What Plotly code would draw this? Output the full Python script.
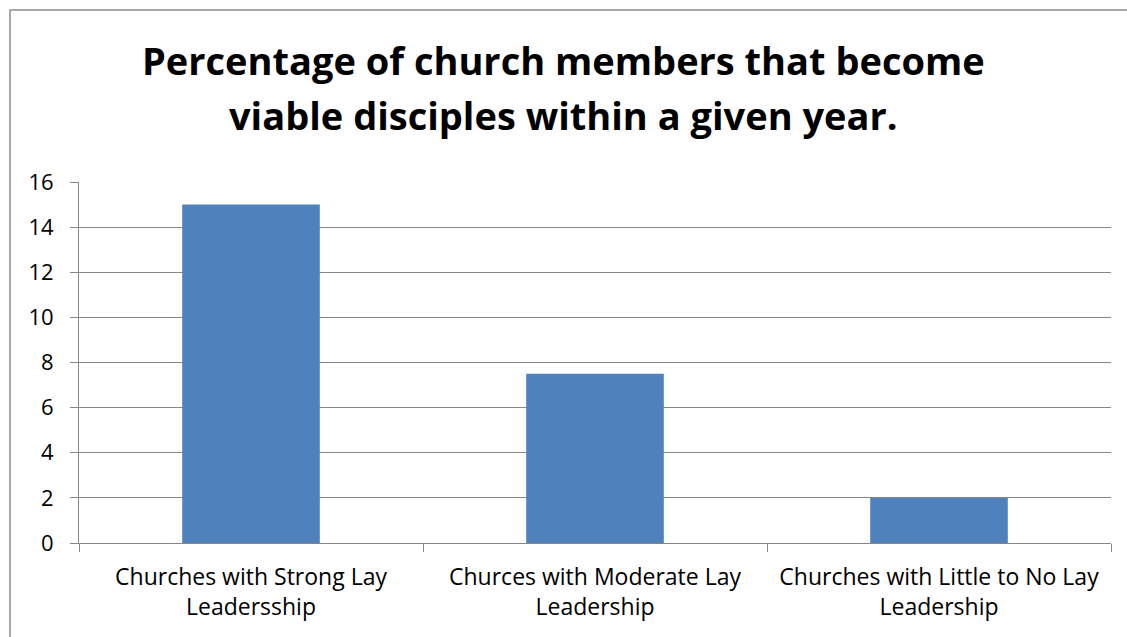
import plotly.graph_objects as go

# Chart data
categories = [
    "Churches with Strong Lay<br>Leadersship",
    "Churces with Moderate Lay<br>Leadership",
    "Churches with Little to No Lay<br>Leadership",
]
values = [15, 7.5, 2]
y_ticks = [0, 2, 4, 6, 8, 10, 12, 14, 16]

title_lines = [
    "Percentage of church members that become",
    "viable disciples within a given year.",
]

FONT = "Open Sans"
BAR_COLOR = "#4F81BD"
GRID_COLOR = "#878787"

W, H = 1127, 637
L, R, T, B = 79, 16, 182, 94
plot_w = W - L - R
plot_h = H - T - B


def px_x(px):
    return (px - L) / plot_w


def px_y(py):
    return (H - B - py) / plot_h


fig = go.Figure(
    go.Bar(
        x=categories,
        y=values,
        marker=dict(color=BAR_COLOR, line=dict(width=0)),
        width=0.4,
    )
)

fig.update_layout(
    width=W,
    height=H,
    margin=dict(l=L, r=R, t=T, b=B),
    paper_bgcolor="white",
    plot_bgcolor="white",
    showlegend=False,
    font=dict(family=FONT, color="black"),
    bargap=0.6,
)

fig.update_yaxes(
    range=[0, 16],
    tickvals=y_ticks,
    ticktext=[str(v) for v in y_ticks],
    showgrid=True,
    gridcolor=GRID_COLOR,
    gridwidth=1,
    zeroline=False,
    showline=True,
    linecolor=GRID_COLOR,
    linewidth=1,
    ticks="outside",
    ticklen=8,
    tickcolor=GRID_COLOR,
    ticklabelstandoff=12,
    tickfont=dict(size=22, family=FONT, color="black"),
    fixedrange=True,
)

fig.update_xaxes(
    showline=True,
    linecolor=GRID_COLOR,
    linewidth=1,
    ticks="outside",
    ticklen=8,
    tickcolor=GRID_COLOR,
    tickson="boundaries",
    ticklabelstandoff=13,
    tickfont=dict(size=23, family=FONT, color="black"),
    fixedrange=True,
)

# Chart title, two centred lines
for line, cy in zip(title_lines, [60, 115]):
    fig.add_annotation(
        text="<b>" + line + "</b>",
        xref="paper",
        yref="paper",
        x=px_x(W / 2),
        y=px_y(cy),
        xanchor="center",
        yanchor="middle",
        showarrow=False,
        font=dict(size=38, family=FONT, color="black"),
    )

# Outer chart frame
fig.add_shape(
    type="rect",
    xref="paper",
    yref="paper",
    x0=px_x(10),
    x1=px_x(W + 20),
    y0=px_y(H + 20),
    y1=px_y(10),
    line=dict(color="#8C8C8C", width=1.5),
    fillcolor="rgba(0,0,0,0)",
    layer="below",
)

fig.write_html("out.html")
